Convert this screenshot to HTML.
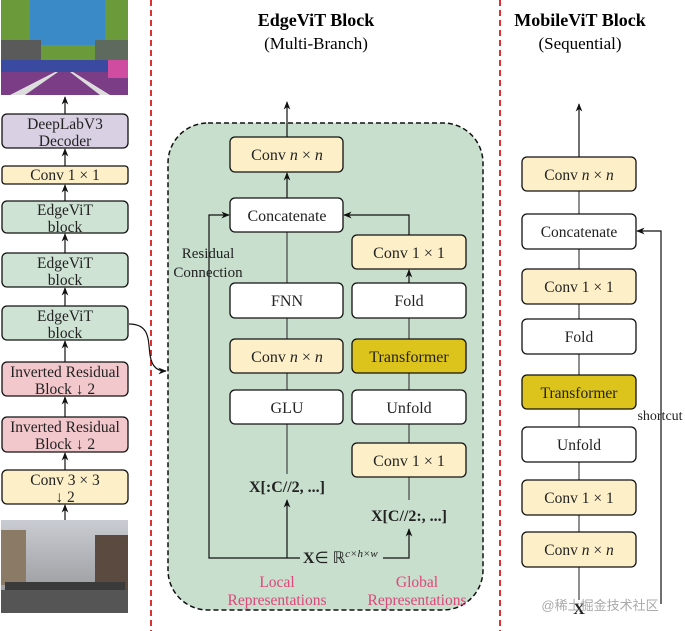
<!DOCTYPE html>
<html><head><meta charset="utf-8"><style>
html,body{margin:0;padding:0;background:#fff;}
svg{display:block;font-family:"Liberation Serif",serif;}
</style></head><body>
<svg width="685" height="631" viewBox="0 0 685 631" xmlns="http://www.w3.org/2000/svg">
<defs>
<marker id="a" viewBox="0 0 10 10" refX="9" refY="5" markerWidth="7" markerHeight="7" orient="auto-start-reverse"><path d="M0,1 L10,5 L0,9 L3,5 z" fill="#111"/></marker>
<linearGradient id="sky" x1="0" y1="0" x2="0" y2="1"><stop offset="0" stop-color="#c9ccd2"/><stop offset="1" stop-color="#8e8f92"/></linearGradient>
</defs>
<line x1="151" y1="0" x2="151" y2="631" stroke="#e03030" stroke-width="2" stroke-dasharray="6,4"/>
<line x1="500" y1="0" x2="500" y2="631" stroke="#e03030" stroke-width="2" stroke-dasharray="6,4"/>

<rect x="1" y="0" width="127" height="95" fill="#6b9a3a"/>
<rect x="30" y="0" width="75" height="45" fill="#3a8ac8"/>
<rect x="1" y="40" width="40" height="25" fill="#5a5a5a"/>
<rect x="95" y="40" width="33" height="30" fill="#5e6a5e"/>
<rect x="1" y="60" width="127" height="12" fill="#3a4aa0"/>
<polygon points="1,95 1,72 128,72 128,95" fill="#7a3d86"/>
<polygon points="10,95 55,72 58,72 25,95" fill="#ddd"/>
<polygon points="100,95 70,72 73,72 110,95" fill="#ddd"/>
<rect x="108" y="60" width="20" height="18" fill="#d04ca0"/>

<g stroke="#111" stroke-width="1.3">
<rect x="2" y="114" width="126" height="34" rx="5" fill="#d9d0e4"/>
<rect x="2" y="166" width="126" height="18" rx="3" fill="#fdf0c8"/>
<rect x="2" y="201" width="126" height="32" rx="5" fill="#cfe3d5"/>
<rect x="2" y="253" width="126" height="34" rx="5" fill="#cfe3d5"/>
<rect x="2" y="306" width="126" height="34" rx="5" fill="#cfe3d5"/>
<rect x="2" y="362" width="126" height="34" rx="5" fill="#f2c8cc"/>
<rect x="2" y="417" width="126" height="35" rx="5" fill="#f2c8cc"/>
<rect x="2" y="470" width="126" height="34" rx="5" fill="#fdf0c8"/>
</g>
<g stroke="#111" stroke-width="1.2" marker-end="url(#a)">
<line x1="65" y1="114" x2="65" y2="97"/>
<line x1="65" y1="166" x2="65" y2="149"/>
<line x1="65" y1="201" x2="65" y2="185"/>
<line x1="65" y1="253" x2="65" y2="234"/>
<line x1="65" y1="306" x2="65" y2="288"/>
<line x1="65" y1="362" x2="65" y2="341"/>
<line x1="65" y1="417" x2="65" y2="397"/>
<line x1="65" y1="470" x2="65" y2="453"/>
<line x1="65" y1="520" x2="65" y2="505"/>
</g>
<g font-size="15.5" text-anchor="middle" fill="#222">
<text x="65" y="129">DeepLabV3</text><text x="65" y="146">Decoder</text>
<text x="65" y="180">Conv 1 × 1</text>
<text x="65" y="215">EdgeViT</text><text x="65" y="232">block</text>
<text x="65" y="268">EdgeViT</text><text x="65" y="285">block</text>
<text x="65" y="321">EdgeViT</text><text x="65" y="338">block</text>
<text x="65" y="377">Inverted Residual</text><text x="65" y="394">Block ↓ 2</text>
<text x="65" y="432">Inverted Residual</text><text x="65" y="449">Block ↓ 2</text>
<text x="65" y="485">Conv 3 × 3</text><text x="65" y="502">↓ 2</text>
</g>
<rect x="1" y="520" width="127" height="93" fill="url(#sky)"/>
<rect x="1" y="530" width="25" height="55" fill="#8a7a66"/>
<rect x="95" y="535" width="33" height="55" fill="#5a4a40"/>
<polygon points="1,613 1,590 128,590 128,613" fill="#555"/>
<rect x="5" y="582" width="120" height="8" fill="#3a3a3a"/>
<path d="M129,324 C150,324 148,340 150,355 C152,368 158,371 166,371" fill="none" stroke="#111" stroke-width="1.2" marker-end="url(#a)"/>

<text x="316" y="26" font-size="18" font-weight="bold" text-anchor="middle">EdgeViT Block</text>
<text x="316" y="49" font-size="17" text-anchor="middle">(Multi-Branch)</text>
<text x="580" y="26" font-size="18" font-weight="bold" text-anchor="middle">MobileViT Block</text>
<text x="580" y="49" font-size="17" text-anchor="middle">(Sequential)</text>

<rect x="168" y="123" width="315" height="487" rx="40" fill="#c8dfcd" stroke="#111" stroke-width="1.5" stroke-dasharray="5,3"/>

<g stroke="#444" stroke-width="1.2" fill="none">
<line x1="287" y1="283" x2="287" y2="232"/>
<line x1="287" y1="339" x2="287" y2="318"/>
<line x1="287" y1="390" x2="287" y2="373"/>
<line x1="287" y1="474" x2="287" y2="424"/>
<line x1="409" y1="339" x2="409" y2="318"/>
<line x1="409" y1="390" x2="409" y2="373"/>
<line x1="409" y1="443" x2="409" y2="424"/>
<line x1="409" y1="500" x2="409" y2="477"/>
<polyline points="300,558 209,558 209,215 229,215" marker-end="url(#a)" stroke="#111"/>
<polyline points="409,235 409,215 344,215" marker-end="url(#a)" stroke="#111"/>
<line x1="287" y1="137" x2="287" y2="102" marker-end="url(#a)" stroke="#111"/>
<line x1="287" y1="558" x2="287" y2="500" marker-end="url(#a)" stroke="#111"/>
<polyline points="383,558 409,558 409,529" marker-end="url(#a)" stroke="#111"/>
<line x1="287" y1="198" x2="287" y2="173" marker-end="url(#a)" stroke="#111"/>
<line x1="409" y1="283" x2="409" y2="270" marker-end="url(#a)" stroke="#111"/>
</g>
<g stroke="#111" stroke-width="1.3">
<rect x="230" y="137" width="113" height="35" rx="5" fill="#fdf0c8"/>
<rect x="230" y="198" width="113" height="34" rx="5" fill="#fff"/>
<rect x="352" y="235" width="114" height="34" rx="5" fill="#fdf0c8"/>
<rect x="230" y="283" width="113" height="35" rx="5" fill="#fff"/>
<rect x="352" y="283" width="114" height="35" rx="5" fill="#fff"/>
<rect x="230" y="339" width="113" height="34" rx="5" fill="#fdf0c8"/>
<rect x="352" y="339" width="114" height="34" rx="5" fill="#dcc41c"/>
<rect x="230" y="390" width="113" height="34" rx="5" fill="#fff"/>
<rect x="352" y="390" width="114" height="34" rx="5" fill="#fff"/>
<rect x="352" y="443" width="114" height="34" rx="5" fill="#fdf0c8"/>
</g>
<g font-size="16" text-anchor="middle" fill="#222">
<text x="287" y="160">Conv <tspan font-style="italic">n</tspan> × <tspan font-style="italic">n</tspan></text>
<text x="287" y="221">Concatenate</text>
<text x="409" y="258">Conv 1 × 1</text>
<text x="287" y="306">FNN</text>
<text x="409" y="306">Fold</text>
<text x="287" y="362">Conv <tspan font-style="italic">n</tspan> × <tspan font-style="italic">n</tspan></text>
<text x="409" y="362">Transformer</text>
<text x="287" y="413">GLU</text>
<text x="409" y="413">Unfold</text>
<text x="409" y="466">Conv 1 × 1</text>
<text x="287" y="492" font-weight="bold">X[:C//2, ...]</text>
<text x="409" y="521" font-weight="bold">X[C//2:, ...]</text>
<text x="208" y="258" font-size="15">Residual</text>
<text x="208" y="277" font-size="15">Connection</text>
</g>
<text x="303" y="563" font-size="16" fill="#222"><tspan font-weight="bold">X</tspan>∈ ℝ<tspan font-size="11" dy="-6" font-style="italic">c×h×w</tspan></text>
<g font-size="15.5" text-anchor="middle" fill="#e0457b">
<text x="277" y="587">Local</text><text x="277" y="605">Representations</text>
<text x="417" y="587">Global</text><text x="417" y="605">Representations</text>
</g>

<g stroke="#444" stroke-width="1.2" fill="none">
<line x1="579" y1="600" x2="579" y2="157"/>
<line x1="579" y1="157" x2="579" y2="104" marker-end="url(#a)" stroke="#111"/>
<polyline points="661,604 661,231 637,231" marker-end="url(#a)" stroke="#111"/>
</g>
<g stroke="#111" stroke-width="1.3">
<rect x="522" y="157" width="114" height="34" rx="5" fill="#fdf0c8"/>
<rect x="522" y="214" width="114" height="35" rx="5" fill="#fff"/>
<rect x="522" y="269" width="114" height="35" rx="5" fill="#fdf0c8"/>
<rect x="522" y="319" width="114" height="35" rx="5" fill="#fff"/>
<rect x="522" y="375" width="114" height="34" rx="5" fill="#dcc41c"/>
<rect x="522" y="427" width="114" height="35" rx="5" fill="#fff"/>
<rect x="522" y="480" width="114" height="35" rx="5" fill="#fdf0c8"/>
<rect x="522" y="532" width="114" height="35" rx="5" fill="#fdf0c8"/>
</g>
<g font-size="15.5" text-anchor="middle" fill="#222">
<text x="579" y="180">Conv <tspan font-style="italic">n</tspan> × <tspan font-style="italic">n</tspan></text>
<text x="579" y="237">Concatenate</text>
<text x="579" y="292">Conv 1 × 1</text>
<text x="579" y="342">Fold</text>
<text x="579" y="398">Transformer</text>
<text x="579" y="450">Unfold</text>
<text x="579" y="503">Conv 1 × 1</text>
<text x="579" y="555">Conv <tspan font-style="italic">n</tspan> × <tspan font-style="italic">n</tspan></text>
<text x="660" y="420" font-size="14">shortcut</text>
<text x="579" y="614" font-weight="bold" font-size="16">X</text>
</g>
<text x="600" y="610" font-size="13" text-anchor="middle" fill="#aaa" font-family="'Liberation Sans','Noto Sans CJK SC',sans-serif">@稀土掘金技术社区</text>
</svg>
</body></html>
